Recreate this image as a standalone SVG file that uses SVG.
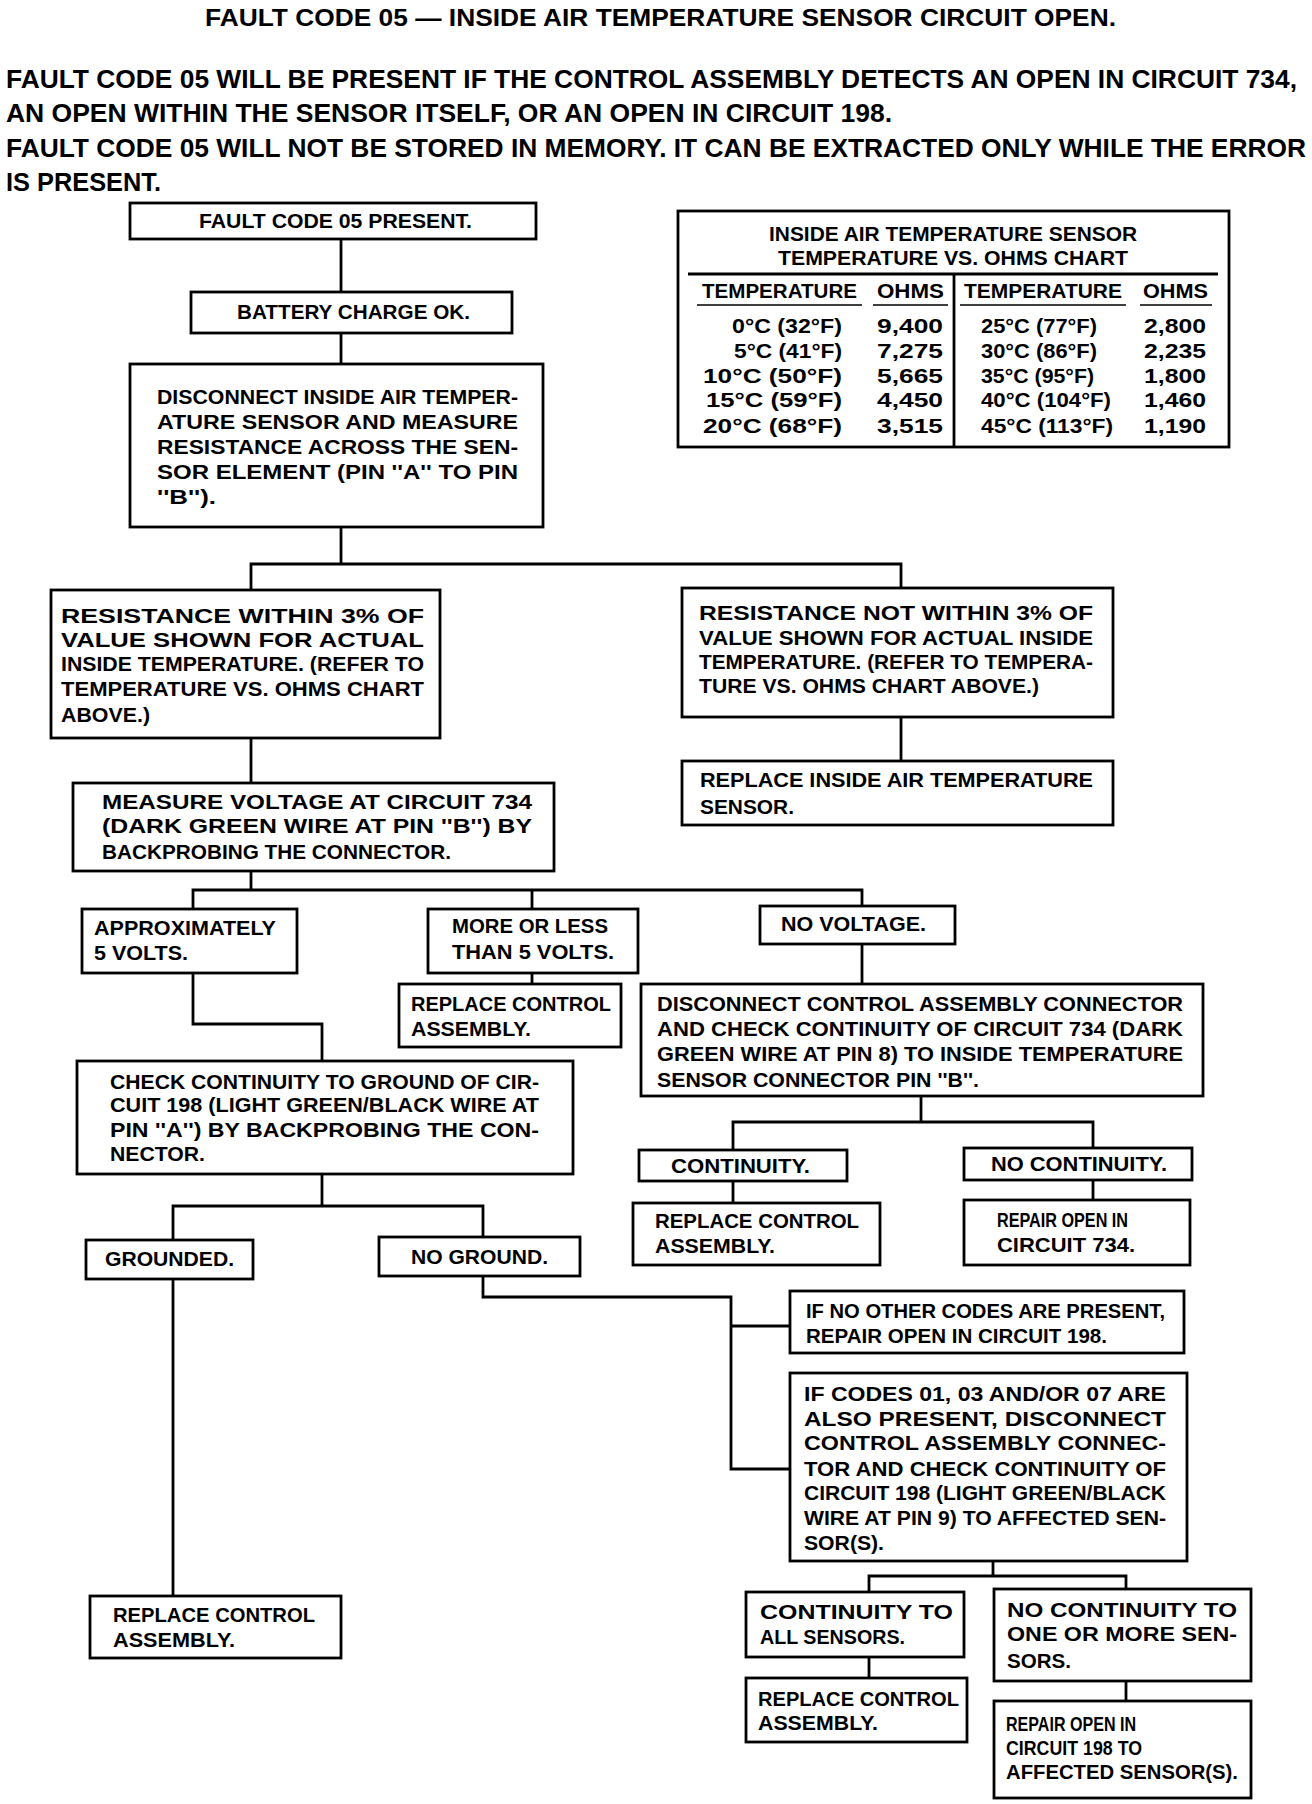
<svg xmlns="http://www.w3.org/2000/svg" width="1312" height="1804" viewBox="0 0 1312 1804">
<style>
.bx{fill:#fff;stroke:#000;stroke-width:2.8}
.cn{fill:none;stroke:#000;stroke-width:2.8}
.rl{fill:none;stroke:#000;stroke-width:1.6}
text{font-family:"Liberation Sans",Arial,sans-serif;font-weight:bold;font-size:20px;fill:#000}
.hd{font-size:23px}
.pg{font-size:26px}
</style>
<rect width="1312" height="1804" fill="#fff"/>
<g id="header">
<text class="hd" x="205" y="26" textLength="911" lengthAdjust="spacingAndGlyphs">FAULT CODE 05 — INSIDE AIR TEMPERATURE SENSOR CIRCUIT OPEN.</text>
<text class="pg" x="6" y="88" textLength="1291" lengthAdjust="spacingAndGlyphs">FAULT CODE 05 WILL BE PRESENT IF THE CONTROL ASSEMBLY DETECTS AN OPEN IN CIRCUIT 734,</text>
<text class="pg" x="6" y="122" textLength="886" lengthAdjust="spacingAndGlyphs">AN OPEN WITHIN THE SENSOR ITSELF, OR AN OPEN IN CIRCUIT 198.</text>
<text class="pg" x="6" y="157" textLength="1300" lengthAdjust="spacingAndGlyphs">FAULT CODE 05 WILL NOT BE STORED IN MEMORY. IT CAN BE EXTRACTED ONLY WHILE THE ERROR</text>
<text class="pg" x="6" y="191" textLength="155" lengthAdjust="spacingAndGlyphs">IS PRESENT.</text>
</g>
<g id="connectors">
<path class="cn" d="M341,239 V292"/>
<path class="cn" d="M341,333 V364"/>
<path class="cn" d="M341,527 V564"/>
<path class="cn" d="M251,590 V564 H901 V588"/>
<path class="cn" d="M901,717 V761"/>
<path class="cn" d="M251,738 V783"/>
<path class="cn" d="M251,871 V890"/>
<path class="cn" d="M193,909 V890 H862 V906"/>
<path class="cn" d="M532,890 V909"/>
<path class="cn" d="M532,973 V984"/>
<path class="cn" d="M862,944 V984"/>
<path class="cn" d="M193,973 V1024 H322 V1061"/>
<path class="cn" d="M921,1096 V1122"/>
<path class="cn" d="M733,1150 V1122 H1093 V1148"/>
<path class="cn" d="M733,1181 V1203"/>
<path class="cn" d="M1093,1180 V1200"/>
<path class="cn" d="M322,1174 V1206"/>
<path class="cn" d="M173,1240 V1206 H483 V1237"/>
<path class="cn" d="M173,1279 V1596"/>
<path class="cn" d="M483,1276 V1297 H731 V1469 H790"/>
<path class="cn" d="M731,1326 H790"/>
<path class="cn" d="M993,1561 V1576"/>
<path class="cn" d="M869,1592 V1576 H1126 V1589"/>
<path class="cn" d="M869,1657 V1678"/>
<path class="cn" d="M1126,1681 V1701"/>
</g>
<g id="chart">
<rect class="bx" x="678" y="211" width="551" height="236"/>
<text x="769" y="241" textLength="368" lengthAdjust="spacingAndGlyphs">INSIDE AIR TEMPERATURE SENSOR</text>
<text x="778" y="265" textLength="350" lengthAdjust="spacingAndGlyphs">TEMPERATURE VS. OHMS CHART</text>
<path class="cn" d="M688,274 H1218"/>
<path class="cn" d="M954,274 V447"/>
<text x="702" y="298" textLength="155" lengthAdjust="spacingAndGlyphs">TEMPERATURE</text>
<text x="877" y="298" textLength="67" lengthAdjust="spacingAndGlyphs">OHMS</text>
<text x="964" y="298" textLength="158" lengthAdjust="spacingAndGlyphs">TEMPERATURE</text>
<text x="1143" y="298" textLength="65" lengthAdjust="spacingAndGlyphs">OHMS</text>
<path class="rl" d="M697,305 H862 M873,305 H948 M960,305 H1126 M1140,305 H1212"/>
<text x="732" y="333" textLength="110" lengthAdjust="spacingAndGlyphs">0°C (32°F)</text>
<text x="734" y="358" textLength="108" lengthAdjust="spacingAndGlyphs">5°C (41°F)</text>
<text x="703" y="383" textLength="139" lengthAdjust="spacingAndGlyphs">10°C (50°F)</text>
<text x="706" y="407" textLength="136" lengthAdjust="spacingAndGlyphs">15°C (59°F)</text>
<text x="703" y="433" textLength="139" lengthAdjust="spacingAndGlyphs">20°C (68°F)</text>
<text x="877" y="333" textLength="66" lengthAdjust="spacingAndGlyphs">9,400</text>
<text x="877" y="358" textLength="66" lengthAdjust="spacingAndGlyphs">7,275</text>
<text x="877" y="383" textLength="66" lengthAdjust="spacingAndGlyphs">5,665</text>
<text x="877" y="407" textLength="66" lengthAdjust="spacingAndGlyphs">4,450</text>
<text x="877" y="433" textLength="66" lengthAdjust="spacingAndGlyphs">3,515</text>
<text x="981" y="333" textLength="116" lengthAdjust="spacingAndGlyphs">25°C (77°F)</text>
<text x="981" y="358" textLength="116" lengthAdjust="spacingAndGlyphs">30°C (86°F)</text>
<text x="981" y="383" textLength="113" lengthAdjust="spacingAndGlyphs">35°C (95°F)</text>
<text x="981" y="407" textLength="130" lengthAdjust="spacingAndGlyphs">40°C (104°F)</text>
<text x="981" y="433" textLength="132" lengthAdjust="spacingAndGlyphs">45°C (113°F)</text>
<text x="1144" y="333" textLength="62" lengthAdjust="spacingAndGlyphs">2,800</text>
<text x="1144" y="358" textLength="62" lengthAdjust="spacingAndGlyphs">2,235</text>
<text x="1144" y="383" textLength="62" lengthAdjust="spacingAndGlyphs">1,800</text>
<text x="1144" y="407" textLength="62" lengthAdjust="spacingAndGlyphs">1,460</text>
<text x="1144" y="433" textLength="62" lengthAdjust="spacingAndGlyphs">1,190</text>
</g>
<g id="n1">
<rect class="bx" x="130" y="203" width="406" height="36"/>
<text x="199" y="228" textLength="273" lengthAdjust="spacingAndGlyphs">FAULT CODE 05 PRESENT.</text>
</g>
<g id="n2">
<rect class="bx" x="191" y="292" width="321" height="41"/>
<text x="237" y="319" textLength="233" lengthAdjust="spacingAndGlyphs">BATTERY CHARGE OK.</text>
</g>
<g id="n3">
<rect class="bx" x="130" y="364" width="413" height="163"/>
<text x="157" y="404" textLength="361" lengthAdjust="spacingAndGlyphs">DISCONNECT INSIDE AIR TEMPER-</text>
<text x="157" y="429" textLength="361" lengthAdjust="spacingAndGlyphs">ATURE SENSOR AND MEASURE</text>
<text x="157" y="454" textLength="361" lengthAdjust="spacingAndGlyphs">RESISTANCE ACROSS THE SEN-</text>
<text x="157" y="479" textLength="361" lengthAdjust="spacingAndGlyphs">SOR ELEMENT (PIN ''A'' TO PIN</text>
<text x="157" y="504" textLength="59" lengthAdjust="spacingAndGlyphs">''B'').</text>
</g>
<g id="n4">
<rect class="bx" x="51" y="590" width="389" height="148"/>
<text x="61" y="623" textLength="363" lengthAdjust="spacingAndGlyphs">RESISTANCE WITHIN 3% OF</text>
<text x="61" y="647" textLength="363" lengthAdjust="spacingAndGlyphs">VALUE SHOWN FOR ACTUAL</text>
<text x="61" y="671" textLength="363" lengthAdjust="spacingAndGlyphs">INSIDE TEMPERATURE. (REFER TO</text>
<text x="61" y="696" textLength="363" lengthAdjust="spacingAndGlyphs">TEMPERATURE VS. OHMS CHART</text>
<text x="61" y="722" textLength="89" lengthAdjust="spacingAndGlyphs">ABOVE.)</text>
</g>
<g id="n5">
<rect class="bx" x="682" y="588" width="431" height="129"/>
<text x="699" y="620" textLength="394" lengthAdjust="spacingAndGlyphs">RESISTANCE NOT WITHIN 3% OF</text>
<text x="699" y="645" textLength="394" lengthAdjust="spacingAndGlyphs">VALUE SHOWN FOR ACTUAL INSIDE</text>
<text x="699" y="669" textLength="394" lengthAdjust="spacingAndGlyphs">TEMPERATURE. (REFER TO TEMPERA-</text>
<text x="699" y="693" textLength="340" lengthAdjust="spacingAndGlyphs">TURE VS. OHMS CHART ABOVE.)</text>
</g>
<g id="n6">
<rect class="bx" x="682" y="761" width="431" height="64"/>
<text x="700" y="787" textLength="393" lengthAdjust="spacingAndGlyphs">REPLACE INSIDE AIR TEMPERATURE</text>
<text x="700" y="814" textLength="94" lengthAdjust="spacingAndGlyphs">SENSOR.</text>
</g>
<g id="n7">
<rect class="bx" x="73" y="783" width="481" height="88"/>
<text x="102" y="809" textLength="430" lengthAdjust="spacingAndGlyphs">MEASURE VOLTAGE AT CIRCUIT 734</text>
<text x="102" y="833" textLength="430" lengthAdjust="spacingAndGlyphs">(DARK GREEN WIRE AT PIN ''B'') BY</text>
<text x="102" y="859" textLength="349" lengthAdjust="spacingAndGlyphs">BACKPROBING THE CONNECTOR.</text>
</g>
<g id="n8">
<rect class="bx" x="82" y="909" width="215" height="64"/>
<text x="94" y="935" textLength="182" lengthAdjust="spacingAndGlyphs">APPROXIMATELY</text>
<text x="94" y="960" textLength="94" lengthAdjust="spacingAndGlyphs">5 VOLTS.</text>
</g>
<g id="n9">
<rect class="bx" x="428" y="909" width="210" height="64"/>
<text x="452" y="933" textLength="156" lengthAdjust="spacingAndGlyphs">MORE OR LESS</text>
<text x="452" y="959" textLength="162" lengthAdjust="spacingAndGlyphs">THAN 5 VOLTS.</text>
</g>
<g id="n10">
<rect class="bx" x="399" y="984" width="222" height="63"/>
<text x="411" y="1011" textLength="200" lengthAdjust="spacingAndGlyphs">REPLACE CONTROL</text>
<text x="411" y="1036" textLength="120" lengthAdjust="spacingAndGlyphs">ASSEMBLY.</text>
</g>
<g id="n11">
<rect class="bx" x="760" y="906" width="195" height="38"/>
<text x="781" y="931" textLength="145" lengthAdjust="spacingAndGlyphs">NO VOLTAGE.</text>
</g>
<g id="n12">
<rect class="bx" x="641" y="984" width="562" height="112"/>
<text x="657" y="1011" textLength="526" lengthAdjust="spacingAndGlyphs">DISCONNECT CONTROL ASSEMBLY CONNECTOR</text>
<text x="657" y="1036" textLength="526" lengthAdjust="spacingAndGlyphs">AND CHECK CONTINUITY OF CIRCUIT 734 (DARK</text>
<text x="657" y="1061" textLength="526" lengthAdjust="spacingAndGlyphs">GREEN WIRE AT PIN 8) TO INSIDE TEMPERATURE</text>
<text x="657" y="1087" textLength="322" lengthAdjust="spacingAndGlyphs">SENSOR CONNECTOR PIN ''B''.</text>
</g>
<g id="n13">
<rect class="bx" x="639" y="1150" width="208" height="31"/>
<text x="671" y="1173" textLength="139" lengthAdjust="spacingAndGlyphs">CONTINUITY.</text>
</g>
<g id="n14">
<rect class="bx" x="633" y="1203" width="247" height="62"/>
<text x="655" y="1228" textLength="204" lengthAdjust="spacingAndGlyphs">REPLACE CONTROL</text>
<text x="655" y="1253" textLength="120" lengthAdjust="spacingAndGlyphs">ASSEMBLY.</text>
</g>
<g id="n15">
<rect class="bx" x="964" y="1148" width="228" height="32"/>
<text x="991" y="1171" textLength="176" lengthAdjust="spacingAndGlyphs">NO CONTINUITY.</text>
</g>
<g id="n16">
<rect class="bx" x="964" y="1200" width="226" height="65"/>
<text x="997" y="1227" textLength="131" lengthAdjust="spacingAndGlyphs">REPAIR OPEN IN</text>
<text x="997" y="1252" textLength="138" lengthAdjust="spacingAndGlyphs">CIRCUIT 734.</text>
</g>
<g id="n17">
<rect class="bx" x="77" y="1061" width="496" height="113"/>
<text x="110" y="1089" textLength="429" lengthAdjust="spacingAndGlyphs">CHECK CONTINUITY TO GROUND OF CIR-</text>
<text x="110" y="1112" textLength="429" lengthAdjust="spacingAndGlyphs">CUIT 198 (LIGHT GREEN/BLACK WIRE AT</text>
<text x="110" y="1137" textLength="429" lengthAdjust="spacingAndGlyphs">PIN ''A'') BY BACKPROBING THE CON-</text>
<text x="110" y="1161" textLength="95" lengthAdjust="spacingAndGlyphs">NECTOR.</text>
</g>
<g id="n18">
<rect class="bx" x="86" y="1240" width="167" height="39"/>
<text x="105" y="1266" textLength="129" lengthAdjust="spacingAndGlyphs">GROUNDED.</text>
</g>
<g id="n19">
<rect class="bx" x="379" y="1237" width="201" height="39"/>
<text x="411" y="1264" textLength="137" lengthAdjust="spacingAndGlyphs">NO GROUND.</text>
</g>
<g id="n20">
<rect class="bx" x="90" y="1596" width="251" height="62"/>
<text x="113" y="1622" textLength="202" lengthAdjust="spacingAndGlyphs">REPLACE CONTROL</text>
<text x="113" y="1647" textLength="122" lengthAdjust="spacingAndGlyphs">ASSEMBLY.</text>
</g>
<g id="n21">
<rect class="bx" x="790" y="1291" width="394" height="62"/>
<text x="806" y="1318" textLength="359" lengthAdjust="spacingAndGlyphs">IF NO OTHER CODES ARE PRESENT,</text>
<text x="806" y="1343" textLength="301" lengthAdjust="spacingAndGlyphs">REPAIR OPEN IN CIRCUIT 198.</text>
</g>
<g id="n22">
<rect class="bx" x="790" y="1373" width="397" height="188"/>
<text x="804" y="1401" textLength="362" lengthAdjust="spacingAndGlyphs">IF CODES 01, 03 AND/OR 07 ARE</text>
<text x="804" y="1426" textLength="362" lengthAdjust="spacingAndGlyphs">ALSO PRESENT, DISCONNECT</text>
<text x="804" y="1450" textLength="362" lengthAdjust="spacingAndGlyphs">CONTROL ASSEMBLY CONNEC-</text>
<text x="804" y="1476" textLength="362" lengthAdjust="spacingAndGlyphs">TOR AND CHECK CONTINUITY OF</text>
<text x="804" y="1500" textLength="362" lengthAdjust="spacingAndGlyphs">CIRCUIT 198 (LIGHT GREEN/BLACK</text>
<text x="804" y="1525" textLength="362" lengthAdjust="spacingAndGlyphs">WIRE AT PIN 9) TO AFFECTED SEN-</text>
<text x="804" y="1550" textLength="80" lengthAdjust="spacingAndGlyphs">SOR(S).</text>
</g>
<g id="n23">
<rect class="bx" x="746" y="1592" width="218" height="65"/>
<text x="760" y="1619" textLength="193" lengthAdjust="spacingAndGlyphs">CONTINUITY TO</text>
<text x="760" y="1644" textLength="145" lengthAdjust="spacingAndGlyphs">ALL SENSORS.</text>
</g>
<g id="n24">
<rect class="bx" x="994" y="1589" width="257" height="92"/>
<text x="1007" y="1617" textLength="230" lengthAdjust="spacingAndGlyphs">NO CONTINUITY TO</text>
<text x="1007" y="1641" textLength="230" lengthAdjust="spacingAndGlyphs">ONE OR MORE SEN-</text>
<text x="1007" y="1668" textLength="64" lengthAdjust="spacingAndGlyphs">SORS.</text>
</g>
<g id="n25">
<rect class="bx" x="746" y="1678" width="221" height="64"/>
<text x="758" y="1706" textLength="201" lengthAdjust="spacingAndGlyphs">REPLACE CONTROL</text>
<text x="758" y="1730" textLength="120" lengthAdjust="spacingAndGlyphs">ASSEMBLY.</text>
</g>
<g id="n26">
<rect class="bx" x="994" y="1701" width="257" height="97"/>
<text x="1006" y="1731" textLength="130" lengthAdjust="spacingAndGlyphs">REPAIR OPEN IN</text>
<text x="1006" y="1755" textLength="136" lengthAdjust="spacingAndGlyphs">CIRCUIT 198 TO</text>
<text x="1006" y="1779" textLength="232" lengthAdjust="spacingAndGlyphs">AFFECTED SENSOR(S).</text>
</g>
</svg>
